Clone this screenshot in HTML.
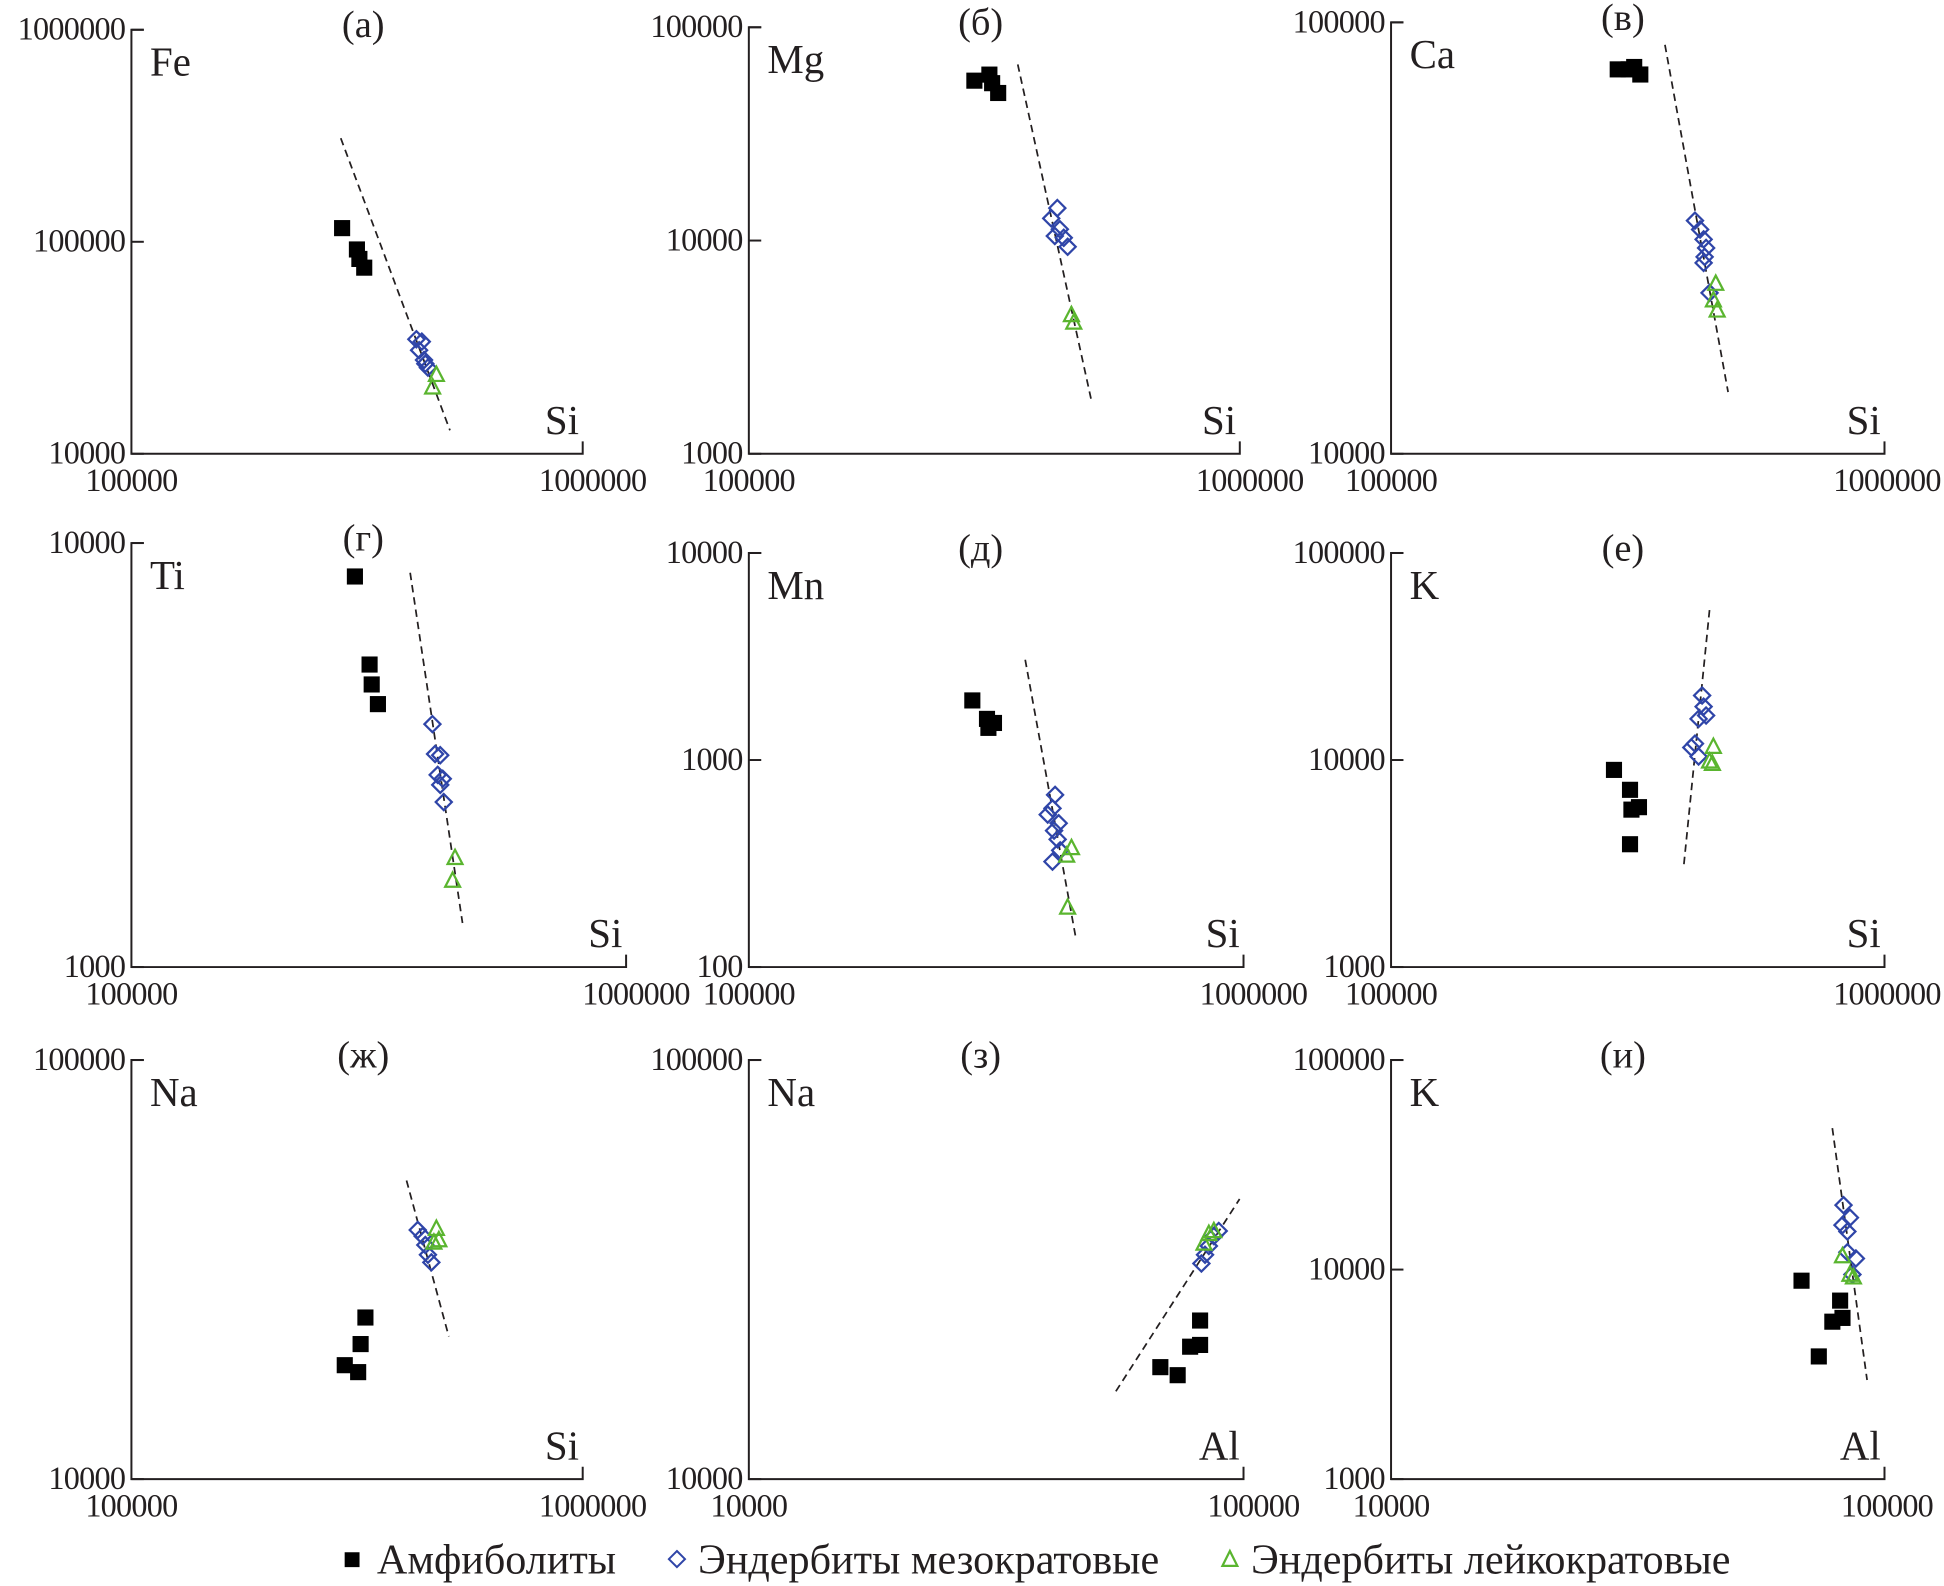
<!DOCTYPE html>
<html><head><meta charset="utf-8">
<style>
html,body{margin:0;padding:0;background:#fff;}
svg{display:block;}
text{font-family:"Liberation Serif","DejaVu Serif",serif;fill:#231f20;}
</style></head>
<body>
<svg id="fig" xmlns="http://www.w3.org/2000/svg" width="1944" height="1586" viewBox="0 0 1568 1279.2"></svg>
<script>
// ---- data ----
const panelLetters = ["(а)","(б)","(в)","(г)","(д)","(е)","(ж)","(з)","(и)"];
const yElements = ["Fe","Mg","Ca","Ti","Mn","K","Na","Na","K"];
const xElements = ["Si","Si","Si","Si","Si","Si","Si","Al","Al"];
const xRanges = [[1e5,1e6],[1e5,1e6],[1e5,1e6],[1e5,1e6],[1e5,1e6],[1e5,1e6],[1e5,1e6],[1e4,1e5],[1e4,1e5]];
const yRanges = [[1e4,1e6],[1e3,1e5],[1e4,1e5],[1e3,1e4],[1e2,1e4],[1e3,1e5],[1e4,1e5],[1e4,1e5],[1e3,1e5]];
const xTickLabels = [["100000","1000000"],["100000","1000000"],["100000","1000000"],["100000","1000000"],["100000","1000000"],["100000","1000000"],["100000","1000000"],["10000","100000"],["10000","100000"]];
const yTickLabels = [["10000","100000","1000000"],["1000","10000","100000"],["10000","100000"],["1000","10000"],["100","1000","10000"],["1000","10000","100000"],["10000","100000"],["10000","100000"],["1000","10000","100000"]];

const amphX = [[293000,316000,320000,328000],[288000,309000,313000,322000],[288000,311000,320000,303000],[283000,303000,306000,315000],[283000,303000,305000,313000],[283000,305000,307000,318000,305000],[297000,322000,330000,318000],[67900,73600,78000,81700,81700],[67900,81300,78400,82200,73600]];
const amphY = [[116000,92000,83000,75500],[56200,60000,54700,49200],[77800,78800,75700,77800],[8340,5170,4640,4170],[1940,1580,1430,1510],[8960,7180,5760,5920,3920],[18700,21000,24300,18000],[18500,17700,20700,20900,23900],[8850,7110,5640,5880,3850]];

const mesoX = [[428000,440000,434000,445000,454000,448000],[425000,413000,430000,420000,438000,446000],[413000,423000,430000,435000,432000,430000,442000],[406000,411000,421000,416000,426000,421000,428000],[416000,411000,402000,423000,414000,421000,426000,411000],[427000,430000,420000,435000,413000,406000,420000],[431000,442000,448000,454000,462000],[82200,83600,85100,87100,89100],[82600,82200,84100,85100,87500,84100,86100]];
const mesoY = [[34700,33800,30800,27700,25500,26600],[14200,12700,11300,10500,10300,9350],[34700,33100,31400,30000,28600,27700,23600],[3740,3180,3160,2840,2780,2690,2450],[679,584,545,495,456,414,366,323],[20500,18100,15800,16400,12000,11500,10400],[39300,38000,36200,34300,32900],[32700,34300,36000,38000,39100],[20300,16300,15200,17700,11300,12100,9470]];

const leucoX = [[474000,465000],[454000,459000],[455000,450000,458000],[451000,446000],[449000,439000,441000],[450000,442000,448000],[474000,480000,468000],[83200,85100,87100],[82200,85100,86500]];
const leucoY = [[23600,20600],[4480,4130],[24800,22700,21500],[1810,1600],[376,346,194],[11600,9860,9600],[39600,37200,36700],[36500,38500,39100],[11600,9470,9200]];

const trendX = [[291000,508000],[353000,498000],[359000,482000],[366000,467000],[362000,459000],[442000,392000],[407000,505000],[55200,98200],[78400,92200]];
const trendY = [[308000,12900],[67000,1800],[88700,13900],[8510,1270],[3050,135],[53000,3100],[51600,21900],[16200,46600],[47300,2970]];

// ---- layout (in 1568-wide view units) ----
const frames = [
 {x0:106,x1:470,yt:24,yb:366},{x0:604,x1:1000,yt:22,yb:366},{x0:1122,x1:1520,yt:18,yb:366},
 {x0:106,x1:505,yt:438,yb:780},{x0:604,x1:1003,yt:446,yb:780},{x0:1122,x1:1520,yt:446,yb:780},
 {x0:106,x1:470,yt:855,yb:1193},{x0:604,x1:1003,yt:855,yb:1193},{x0:1122,x1:1520,yt:855,yb:1193}];

const NS="http://www.w3.org/2000/svg";
const svg=document.getElementById('fig');
function mk(tag,attrs,parent){const e=document.createElementNS(NS,tag);for(const k in attrs)e.setAttribute(k,attrs[k]);(parent||svg).appendChild(e);return e;}

function draw(i){
  const f=frames[i];
  const g=mk('g',{});
  
  
  const lx0=Math.log10(xRanges[i][0]),lx1=Math.log10(xRanges[i][1]);
  const ly0=Math.log10(yRanges[i][0]),ly1=Math.log10(yRanges[i][1]);
  const sx=v=>f.x0+(Math.log10(v)-lx0)/(lx1-lx0)*(f.x1-f.x0);
  const sy=v=>f.yb-(Math.log10(v)-ly0)/(ly1-ly0)*(f.yb-f.yt);
  const ax=mk('path',{d:`M${f.x0+10},${f.yt} H${f.x0} V${f.yb} H${f.x1} V${f.yb-10}`,fill:'none',stroke:'#231f20','stroke-width':1.6},g);
  
  
  yTickLabels[i].forEach((lab,k)=>{
    const y=f.yb-k*(f.yb-f.yt)/(yTickLabels[i].length-1);
    const tk=mk('line',{x1:f.x0,x2:f.x0+10,y1:y,y2:y,stroke:'#231f20','stroke-width':1.6},g);
    
    
    const t=mk('text',{x:f.x0-5,y:y+8,'text-anchor':'end','font-size':26,'letter-spacing':'-0.6'},g);
    t.textContent=lab;
    
    
  });
  xTickLabels[i].forEach((lab,k)=>{
    const x=k===0?f.x0:Math.min(f.x1+8,1522);
    const t=mk('text',{x:x,y:f.yb+30,'text-anchor':'middle','font-size':26,'letter-spacing':'-0.6'},g);
    t.textContent=lab;
    
    
  });
  const pl=mk('text',{x:f.x0+187,y:f.yt+6,'text-anchor':'middle','font-size':31},g);
  pl.textContent=panelLetters[i];
  
  
  const ye=mk('text',{x:f.x0+15,y:f.yt+37,'font-size':33},g);
  ye.textContent=yElements[i];
  
  
  const xe=mk('text',{x:f.x1-3,y:f.yb-16,'text-anchor':'end','font-size':33},g);
  xe.textContent=xElements[i];
  
  
  const tl=mk('line',{x1:sx(trendX[i][0]),y1:sy(trendY[i][0]),x2:sx(trendX[i][1]),y2:sy(trendY[i][1]),stroke:'#231f20','stroke-width':1.4,'stroke-dasharray':'6,4'},g);
  
  
  amphX[i].forEach((v,k)=>{
    const x=sx(v),y=sy(amphY[i][k]);
    const r=mk('rect',{x:x-6.5,y:y-6.5,width:13,height:13,fill:'#000'},g);
    
    
  });
  mesoX[i].forEach((v,k)=>{
    const x=sx(v),y=sy(mesoY[i][k]);
    const p=mk('path',{d:`M${x},${y-6.5} L${x+6.5},${y} L${x},${y+6.5} L${x-6.5},${y} Z`,fill:'none',stroke:'#2f45a8','stroke-width':1.8},g);
    
    
  });
  leucoX[i].forEach((v,k)=>{
    const x=sx(v),y=sy(leucoY[i][k]);
    const p=mk('path',{d:`M${x},${y-6.5} L${x+6},${y+5} L${x-6},${y+5} Z`,fill:'none',stroke:'#5ab52f','stroke-width':1.8},g);
    
    
  });
}
for(let i=0;i<9;i++)draw(i);

const lg=mk('g',{});


const ls=mk('rect',{x:278,y:1252,width:12,height:12,fill:'#000'},lg);


const lt1=mk('text',{x:304,y:1269,'font-size':34},lg);lt1.textContent='Амфиболиты';


const ld=mk('path',{d:'M546,1251 L552.5,1257.5 L546,1264 L539.5,1257.5 Z',fill:'none',stroke:'#2f45a8','stroke-width':1.6},lg);


const lt2=mk('text',{x:563,y:1269,'font-size':34},lg);lt2.textContent='Эндербиты мезократовые';


const ltr=mk('path',{d:'M992,1251 L998,1263 L986,1263 Z',fill:'none',stroke:'#5ab52f','stroke-width':1.8},lg);


const lt3=mk('text',{x:1009,y:1269,'font-size':34},lg);lt3.textContent='Эндербиты лейкократовые';


</script>
</body></html>
